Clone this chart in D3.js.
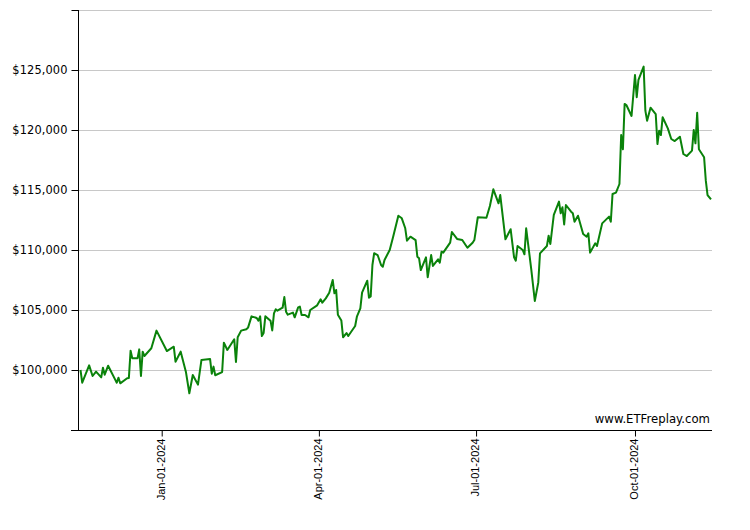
<!DOCTYPE html>
<html>
<head>
<meta charset="utf-8">
<script src="https://cdn.jsdelivr.net/npm/d3@7"></script>
<style>
  html, body { margin: 0; padding: 0; background: #fff; }
  svg { display: block; }
</style>
</head>
<body>
<svg id="chart" width="750" height="530"></svg>
<script>
const dates = [
"2023-11-15","2023-11-16","2023-11-20","2023-11-22","2023-11-24","2023-11-27","2023-11-28","2023-11-29","2023-12-01","2023-12-05",
"2023-12-06","2023-12-07","2023-12-08","2023-12-12","2023-12-13","2023-12-14","2023-12-15","2023-12-18","2023-12-19","2023-12-20",
"2023-12-21","2023-12-22","2023-12-26","2023-12-29","2024-01-04","2024-01-08","2024-01-09","2024-01-12","2024-01-15","2024-01-17",
"2024-01-19","2024-01-22","2024-01-24","2024-01-29","2024-01-30","2024-01-31","2024-02-01","2024-02-05","2024-02-06","2024-02-08",
"2024-02-12","2024-02-13","2024-02-14","2024-02-16","2024-02-19","2024-02-20","2024-02-22","2024-02-25","2024-02-26","2024-02-27",
"2024-02-28","2024-02-29","2024-03-01","2024-03-04","2024-03-05","2024-03-06","2024-03-07","2024-03-08","2024-03-11","2024-03-12",
"2024-03-13","2024-03-14","2024-03-17","2024-03-18","2024-03-20","2024-03-21","2024-03-22","2024-03-24","2024-03-26","2024-03-27",
"2024-03-31","2024-04-02","2024-04-03","2024-04-05","2024-04-07","2024-04-09","2024-04-10","2024-04-11","2024-04-12","2024-04-14",
"2024-04-15","2024-04-17","2024-04-18","2024-04-20","2024-04-22","2024-04-23","2024-04-25","2024-04-26","2024-04-29","2024-04-30",
"2024-05-01","2024-05-02","2024-05-03","2024-05-05","2024-05-07","2024-05-08","2024-05-09","2024-05-12","2024-05-14","2024-05-17",
"2024-05-19","2024-05-21","2024-05-22","2024-05-24","2024-05-27","2024-05-28","2024-05-29","2024-05-30","2024-06-02","2024-06-03",
"2024-06-05","2024-06-06","2024-06-09","2024-06-10","2024-06-11","2024-06-12","2024-06-16","2024-06-17","2024-06-20","2024-06-23",
"2024-06-26","2024-06-29","2024-06-30","2024-07-02","2024-07-07","2024-07-09","2024-07-11","2024-07-14","2024-07-15","2024-07-18",
"2024-07-21","2024-07-23","2024-07-24","2024-07-25","2024-07-28","2024-07-29","2024-07-30","2024-08-02","2024-08-04","2024-08-06",
"2024-08-07","2024-08-11","2024-08-12","2024-08-13","2024-08-15","2024-08-18","2024-08-19","2024-08-20","2024-08-21","2024-08-22",
"2024-08-25","2024-08-26","2024-08-27","2024-08-29","2024-09-01","2024-09-03","2024-09-04","2024-09-05","2024-09-08","2024-09-09",
"2024-09-12","2024-09-16","2024-09-17","2024-09-18","2024-09-20","2024-09-22","2024-09-23","2024-09-24","2024-09-25","2024-09-26",
"2024-09-29","2024-10-01","2024-10-02","2024-10-03","2024-10-06","2024-10-07","2024-10-08","2024-10-10","2024-10-13","2024-10-14",
"2024-10-15","2024-10-16","2024-10-17","2024-10-20","2024-10-22","2024-10-24","2024-10-27","2024-10-29","2024-10-31","2024-11-03",
"2024-11-04","2024-11-05","2024-11-06","2024-11-07","2024-11-10","2024-11-11","2024-11-12","2024-11-14"
];
const values = [
100000,98940,100390,99500,99860,99390,100190,99610,100360,99220,
98940,99360,98890,99310,99330,101610,100970,100970,101720,99500,
101530,101170,101810,103280,101580,101940,100690,101530,99860,98060,
99580,98780,100830,100920,99690,100280,99560,99830,102280,101670,
102560,100670,102730,103280,103390,103530,104470,104330,104110,104470,
102830,103080,104470,104110,103300,104720,105060,104940,105190,106080,
104860,104610,104780,104390,105220,105280,104580,104580,104390,105000,
105390,105890,105610,105970,106440,107500,106390,106670,104610,104130,
102730,103080,102830,103250,103670,104440,105140,106440,107440,106030,
106130,108750,109730,109580,108750,108610,109170,110000,111110,112860,
112640,111810,110780,111110,110830,109440,109310,108330,109390,107730,
109580,108670,109220,108940,109860,109780,110610,111500,110920,110830,
110190,110610,110830,112730,112690,113670,115060,113890,114580,110890,
111730,109390,109110,110330,110000,109640,111810,108330,105750,107280,
109720,110330,111190,110500,112920,114030,113060,113560,112130,113750,
113190,113060,112360,112860,111330,111110,111390,109780,110560,110330,
112220,112780,112360,114670,114780,115500,119580,118390,122170,122080,
121170,124580,122730,124170,125280,121610,120780,121860,121330,118830,
119940,119580,121060,120140,119250,119080,119440,118000,117830,118280,
120000,118890,121440,118390,117730,115780,114580,114220
];
const yTicks = [95000,100000,105000,110000,115000,120000,125000,130000];
const yLabelled = [100000,105000,110000,115000,120000,125000];
const xTicks = ["2024-01-01","2024-04-01","2024-07-01","2024-10-01"];
const watermark = "www.ETFreplay.com";

const parse = d3.timeParse("%Y-%m-%d");
const data = dates.map((d, i) => ({ date: parse(d), value: values[i] }));

const svg = d3.select("#chart");
const mLeft = 78, mRight = 712, mTop = 10, mBottom = 430;

const x = d3.scaleTime()
  .domain([parse("2023-11-15"), parse("2024-11-14")])
  .range([80.5, 711]);
const y = d3.scaleLinear().domain([95000, 130000]).range([mBottom, mTop]);

// gridlines
svg.append("g")
  .selectAll("line")
  .data(yTicks.filter(v => v > 95000))
  .join("line")
  .attr("x1", mLeft).attr("x2", mRight)
  .attr("y1", d => Math.round(y(d)) + 0.5).attr("y2", d => Math.round(y(d)) + 0.5)
  .attr("stroke", "#c8c8c8").attr("stroke-width", 1);

// y axis
const yAxis = d3.axisLeft(y)
  .tickValues(yTicks)
  .tickSize(7)
  .tickPadding(4)
  .tickFormat(d => yLabelled.includes(d) ? "$" + d3.format(",")(d) : "");
const gy = svg.append("g")
  .attr("transform", `translate(${mLeft + 0.5},0)`)
  .call(yAxis);
gy.select(".domain").attr("stroke", "#000").attr("d", `M0,${mTop}V${mBottom}`);
gy.selectAll(".tick line").attr("stroke", "#000");
gy.selectAll(".tick text")
  .attr("font-family", "DejaVu Sans, Verdana, sans-serif")
  .attr("font-size", 11.4)
  .attr("letter-spacing", 0.1)
  .attr("fill", "#000");

// x axis
const xAxis = d3.axisBottom(x)
  .tickValues(xTicks.map(parse))
  .tickSize(6)
  .tickFormat(d3.timeFormat("%b-%d-%Y"));
const gx = svg.append("g")
  .attr("transform", `translate(0,${mBottom + 0.5})`)
  .call(xAxis);
gx.select(".domain").attr("stroke", "#000").attr("d", `M${mLeft - 7},0H${mRight}`);
gx.selectAll(".tick line").attr("stroke", "#000");
gx.selectAll(".tick text")
  .attr("font-family", "Liberation Sans, Arial, sans-serif")
  .attr("font-size", 11)
  .attr("fill", "#000")
  .attr("text-anchor", "end")
  .attr("dy", "0.35em")
  .attr("x", 0).attr("y", 0)
  .attr("transform", "translate(-1,8) rotate(-90)");

// line
const line = d3.line().x(d => x(d.date)).y(d => y(d.value));
svg.append("path")
  .datum(data)
  .attr("d", line)
  .attr("fill", "none")
  .attr("stroke", "#0a820a")
  .attr("stroke-width", 2)
  .attr("stroke-linejoin", "round");

// watermark
svg.append("text")
  .attr("x", 710).attr("y", 423)
  .attr("text-anchor", "end")
  .attr("font-family", "DejaVu Sans, Verdana, sans-serif")
  .attr("font-size", 11.7)
  .attr("fill", "#000")
  .text(watermark);
</script>
</body>
</html>
